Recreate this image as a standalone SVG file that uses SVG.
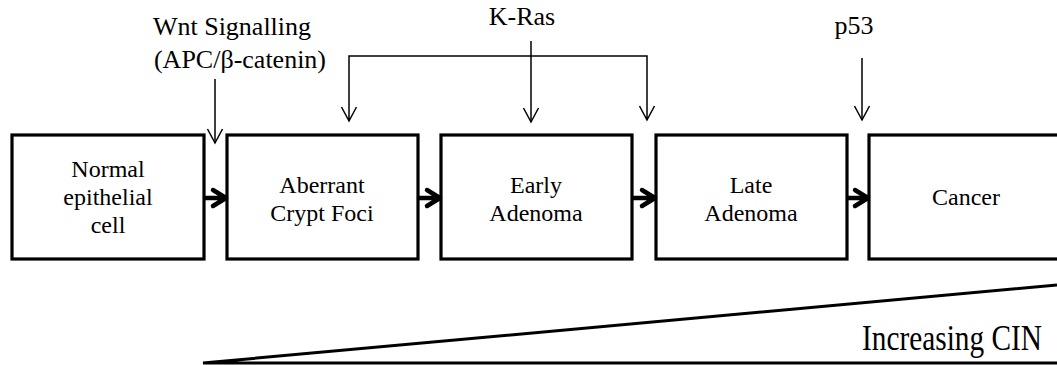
<svg xmlns="http://www.w3.org/2000/svg" width="1057" height="365" viewBox="0 0 1057 365" font-family="'Liberation Serif', 'Times New Roman', Times, serif">
<style>
text{font-family:'Liberation Serif','Times New Roman',Times,serif;fill:#000}
.lbl{font-size:26px;text-anchor:middle}
.box{fill:#fff;stroke:#000;stroke-width:3.2}
.bt{font-size:24px;text-anchor:middle}
.thin{fill:none;stroke:#000;stroke-width:1.5}
.thick{fill:none;stroke:#000;stroke-width:4.5;stroke-linecap:round;stroke-linejoin:round}
</style>
<defs>
<marker id="open" markerUnits="userSpaceOnUse" markerWidth="20" markerHeight="20" viewBox="-16 -10 20 20" refX="0" refY="0" orient="auto">
<path d="M-14,-7.5 L0,0 L-14,7.5" fill="none" stroke="#000" stroke-width="1.5"/>
</marker>
</defs>
<rect width="1057" height="365" fill="#fff"/>
<g id="n-normal"><rect class="box" x="12" y="135" width="192" height="124"/><text class="bt" x="108" y="177">Normal</text><text class="bt" x="108" y="205">epithelial</text><text class="bt" x="108" y="233">cell</text></g>
<g id="n-acf"><rect class="box" x="227" y="135" width="191" height="124"/><text class="bt" x="322" y="193">Aberrant</text><text class="bt" x="322" y="221">Crypt Foci</text></g>
<g id="n-early"><rect class="box" x="441" y="135" width="191" height="124"/><text class="bt" x="536" y="193">Early</text><text class="bt" x="536" y="221">Adenoma</text></g>
<g id="n-late"><rect class="box" x="656" y="135" width="191" height="124"/><text class="bt" x="751" y="193">Late</text><text class="bt" x="751" y="221">Adenoma</text></g>
<g id="n-cancer"><rect class="box" x="869" y="135" width="200" height="124"/><text class="bt" x="966" y="205">Cancer</text></g>
<g id="labels">
<text class="lbl" x="232" y="35">Wnt Signalling</text>
<text class="lbl" x="240" y="68">(APC/β-catenin)</text>
<text class="lbl" x="522" y="25">K-Ras</text>
<text class="lbl" x="854" y="34">p53</text>
<text transform="translate(1042,350) scale(0.815,1)" x="0" y="0" font-size="36" text-anchor="end">Increasing CIN</text>
</g>
<g id="connectors">
<path class="thick" d="M205,198 H225 M213,190 L226,198 L213,206"/>
<path class="thick" d="M419,198 H439 M427,190 L440,198 L427,206"/>
<path class="thick" d="M633,198 H654 M642,190 L655,198 L642,206"/>
<path class="thick" d="M848,198 H867 M855,190 L868,198 L855,206"/>
<line class="thin" x1="215" y1="79" x2="215" y2="143" marker-end="url(#open)"/>
<path class="thin" d="M349,121 V56 H647 V120"/>
<path class="thin" d="M349,118 V121" marker-end="url(#open)"/>
<path class="thin" d="M647,117 V120" marker-end="url(#open)"/>
<line class="thin" x1="531" y1="41" x2="531" y2="122" marker-end="url(#open)"/>
<line class="thin" x1="862" y1="58" x2="862" y2="120" marker-end="url(#open)"/>
</g>
<path id="cin-wedge" d="M1057,285 L203,363 L1057,363" fill="none" stroke="#000" stroke-width="3"/>
</svg>
